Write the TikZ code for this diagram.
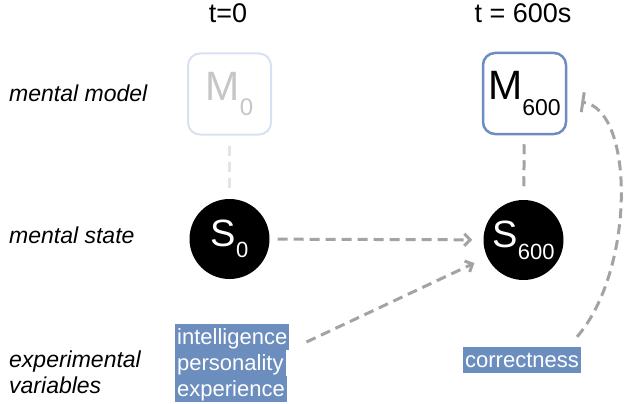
\documentclass[tikz,border=0pt]{standalone}
\usepackage{fontspec}
\setmainfont{Liberation Sans}
\usetikzlibrary{arrows.meta,calc}
\definecolor{dblue}{HTML}{6C8EBF}
\definecolor{lblue}{HTML}{D7E1F1}
\definecolor{dgray}{HTML}{A3A3A3}
\definecolor{lgray}{HTML}{E4E4E4}
\definecolor{mgray}{HTML}{C6C6C6}
\newcommand{\fs}[1]{\fontsize{#1}{#1}\selectfont}
\tikzset{
  conn/.style={line width=3pt, dash pattern=on 10pt off 6pt},
  mbox/.style={draw, rounded corners=12pt, minimum width=83pt, minimum height=81pt, inner sep=0pt},
  sstate/.style={circle, fill=black, minimum size=80pt, inner sep=0pt, text=white},
  hl/.style={fill=dblue, text=white, inner xsep=2pt, inner ysep=0pt, text height=20pt, text depth=6pt, font=\fs{22}},
  lbl/.style={anchor=base west, inner sep=0pt, font=\fs{23}\itshape},
  tip/.style={-{Straight Barb[length=6pt,width=12pt,line width=3pt]}}
}
\begin{document}
\begin{tikzpicture}[x=1pt,y=-1pt]
\useasboundingbox (0,0) rectangle (624,404);
% headers
\node[anchor=base, inner sep=0pt, font=\fs{27}] (t0) at (228,23) {t=0};
\node[anchor=base, inner sep=0pt, font=\fs{27}] (t600) at (523,23) {t = 600s};
% row labels
\node[lbl] (lmm) at (9,102) {mental model};
\node[lbl] (lms) at (9,243) {mental state};
\node[lbl] (lev1) at (9,367) {experimental};
\node[lbl] (lev2) at (9,393) {variables};
% models
\node[mbox, draw=lblue, line width=2pt, text=mgray] (M0) at (229.5,94)
  {{\fs{41}M}\raisebox{-15pt}{\fs{24}0}};
\node[mbox, draw=dblue, line width=2.5pt] (M600) at (524.5,93.5)
  {{\fs{41}M}\raisebox{-16pt}{\fs{23}600}};
% states
\node[sstate] (S0) at (229.5,239) {{\fs{38}S}\raisebox{-11pt}{\fs{22}0}};
\node[sstate] (S600) at (523.5,240) {{\fs{38}S}\raisebox{-12pt}{\fs{22}600}};
% variables
\node[hl, anchor=base west] (v1) at (175,344) {intelligence};
\node[hl, anchor=base west] (v2) at (175,370) {personality};
\node[hl, anchor=base west] (v3) at (175,396) {experience};
\node[hl, anchor=center] (corr) at (522,360) {correctness};
% connectors
\draw[conn, lgray, shorten <=10pt, shorten >=6pt] (M0) -- (S0);
\draw[conn, dgray, shorten <=9pt, shorten >=10pt] (M600) -- (S600);
\draw[conn, dgray, tip, shorten <=8pt, shorten >=11pt] (S0) -- (S600);
\draw[conn, dgray, tip, shorten >=14pt] ([xshift=17pt,yshift=-5pt]v1.east) -- (S600);
\draw[conn, dgray, -{Bar[width=20pt,line width=3pt]}]
  ([xshift=-4pt,yshift=10pt]corr.north east) .. controls (635,270) and (635,110) .. ([xshift=14pt,yshift=-8.5pt]M600.east);
\end{tikzpicture}
\end{document}
